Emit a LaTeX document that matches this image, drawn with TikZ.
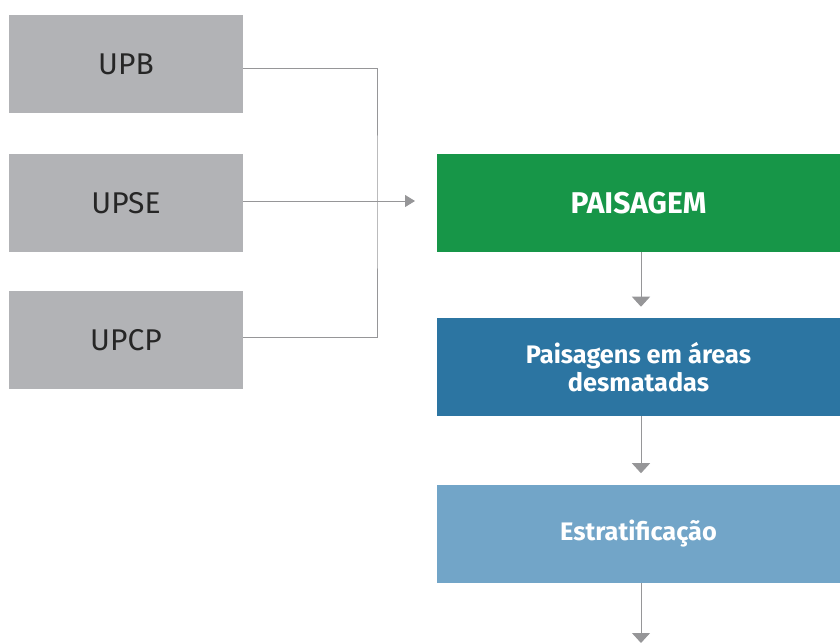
\documentclass[tikz,border=0pt]{standalone}
\usepackage{fontspec}
\setmainfont{Fira Sans}
\usetikzlibrary{arrows.meta, positioning}
\definecolor{UnitGrey}{RGB}{178, 179, 182}
\definecolor{LineGrey}{RGB}{150, 150, 152}
\definecolor{Level1}{RGB}{23, 150, 72}
\definecolor{Level2}{RGB}{44, 117, 162}
\definecolor{Level3}{RGB}{114, 165, 200}
\tikzset{
    unitbox/.style={
        rectangle, fill=UnitGrey, text=black!85, inner sep=0pt,
        minimum width=175.5pt, minimum height=73.5pt,
        font=\fontsize{22.5}{26}\selectfont
    },
    levelbox/.style={
        rectangle, text=white, inner sep=0pt, align=center,
        minimum width=302.25pt, minimum height=73.5pt,
        font=\bfseries\fontsize{19}{21}\selectfont
    },
    link/.style={
        line width=0.75pt, color=LineGrey
    },
    sidearrow/.style={
        link, -{Triangle[length=7.5pt, width=9pt]}
    },
    downarrow/.style={
        link, -{Triangle[length=7.5pt, width=13.5pt]}
    }
}
\begin{document}
\begin{tikzpicture}[x=0.75pt, y=-0.75pt]
    \useasboundingbox (0,0) rectangle (840,643);

    % units on the left
    \node[unitbox] (upb)  at (126,64)  {UPB};
    \node[unitbox] (upse) at (126,203) {UPSE};
    \node[unitbox] (upcp) at (126,340) {UPCP};

    % levels on the right
    \node[levelbox, fill=Level1, font=\bfseries\fontsize{22.5}{26}\selectfont] (paisagem) at (638.5,203) {PAISAGEM};
    \node[levelbox, fill=Level2] (desmat) at (638.5,367) {Paisagens em áreas\\desmatadas};
    \node[levelbox, fill=Level3] (estrat) at (638.5,533.5) {Estratificação};

    % joining lines
    \coordinate (join) at (377,201);
    \coordinate (tip) at (415,201);
    \coordinate (bottom) at (641,643);
    \draw[link] ([yshift=-3pt]upb.east) -| (join) |- ([yshift=2.25pt]upcp.east);
    \draw[sidearrow] (upse.east |- join) -- (tip);

    % downward arrows
    \draw[downarrow] (paisagem.south -| bottom) -- ([yshift=8.25pt]desmat.north -| bottom);
    \draw[downarrow] (desmat.south -| bottom) -- ([yshift=8.25pt]estrat.north -| bottom);
    \draw[downarrow] (estrat.south -| bottom) -- (bottom);
\end{tikzpicture}
\end{document}
